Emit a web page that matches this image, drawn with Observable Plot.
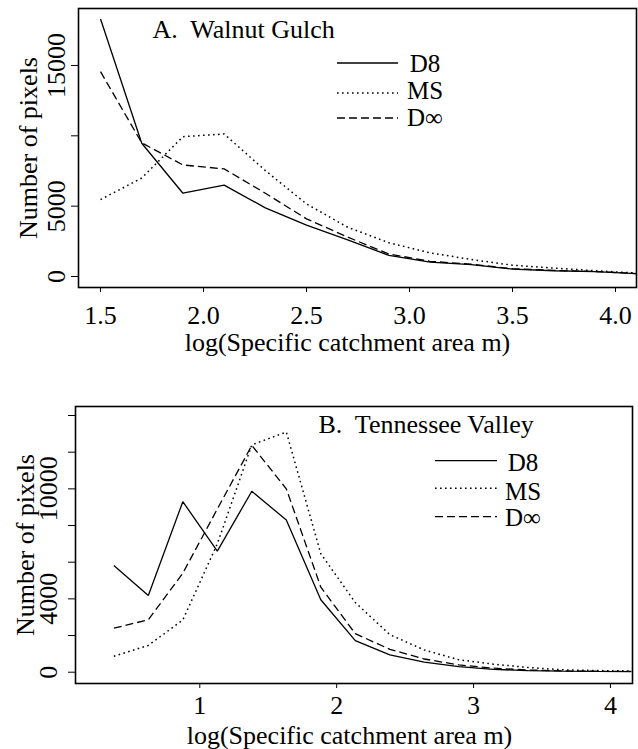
<!DOCTYPE html>
<html>
<head>
<meta charset="utf-8">
<script src="https://cdn.jsdelivr.net/npm/d3@7"></script>
<script src="https://cdn.jsdelivr.net/npm/@observablehq/plot@0.6"></script>
<style>
  html, body { margin: 0; padding: 0; background: #fff; }
  #chart { width: 638px; }
  #chart svg { display: block; }
</style>
</head>
<body>
<div id="chart"></div>
<script>
// ---------- Data ----------
const seriesNames = ["D8", "MS", "D\u221E"];

// Panel A: Walnut Gulch
const titleA = "A.  Walnut Gulch";
const xA = [1.5, 1.7, 1.9, 2.1, 2.3, 2.5, 2.7, 2.9, 3.1, 3.3, 3.5, 3.7, 3.9, 4.1];
const d8A   = [18300, 9470, 5920, 6500, 4880, 3650, 2600, 1500, 1020, 850, 530, 410, 350, 200];
const msA   = [5470, 7000, 9940, 10130, 7530, 5160, 3500, 2400, 1680, 1210, 800, 600, 410, 250];
const dinfA = [14560, 9500, 7930, 7650, 5920, 4100, 2800, 1600, 1080, 870, 560, 430, 360, 210];
const xTicksA = [1.5, 2.0, 2.5, 3.0, 3.5, 4.0];
const xTickLabelsA = ["1.5", "2.0", "2.5", "3.0", "3.5", "4.0"];
const yTicksA = [0, 5000, 10000, 15000];
const yTickLabelsA = [0, 5000, 15000];

// Panel B: Tennessee Valley
const titleB = "B.  Tennessee Valley";
const xB = [0.372, 0.624, 0.876, 1.128, 1.38, 1.632, 1.884, 2.136, 2.388, 2.64, 2.892, 3.144, 3.396, 3.648, 3.9, 4.152];
const d8B   = [5820, 4180, 9300, 6600, 9870, 8300, 3950, 1720, 950, 550, 300, 150, 90, 60, 40, 30];
const msB   = [870, 1460, 2850, 7000, 12400, 13100, 6460, 3800, 2050, 1210, 680, 440, 260, 130, 90, 70];
const dinfB = [2400, 2860, 5400, 8900, 12370, 10000, 4640, 2100, 1250, 720, 400, 220, 120, 70, 50, 40];
const xTicksB = [1, 2, 3, 4];
const xTickLabelsB = ["1", "2", "3", "4"];
const yTicksB = [0, 2000, 4000, 6000, 8000, 10000, 12000, 14000];
const yTickLabelsB = [0, 4000, 10000];

const xLabel = "log(Specific catchment area m)";
const yLabel = "Number of pixels";

// ---------- Styles ----------
const FONT = "Liberation Serif";
const dashes = { "D8": null, "MS": "1.6,3.4", "D\u221E": "8,4" };
const widths = { "D8": 1.3, "MS": 1.5, "D\u221E": 1.3 };

function toRows(xs, d8, ms, dinf) {
  const rows = [];
  [d8, ms, dinf].forEach((vals, k) => {
    vals.forEach((v, i) => rows.push({ series: seriesNames[k], x: xs[i], y: v }));
  });
  return rows;
}

function panel(cfg) {
  const rows = toRows(cfg.xs, cfg.d8, cfg.ms, cfg.dinf);
  const tickMap = new Map(cfg.xTicks.map((t, i) => [t, cfg.xTickLabels[i]]));
  const lineMarks = seriesNames.map(s => Plot.line(rows.filter(r => r.series === s), {
    x: "x", y: "y", stroke: "black", strokeWidth: widths[s],
    strokeDasharray: dashes[s], strokeLinejoin: "miter", strokeLinecap: "butt"
  }));
  const svg = Plot.plot({
    width: 638, height: cfg.height,
    marginLeft: cfg.m[0], marginRight: cfg.m[1], marginTop: cfg.m[2], marginBottom: cfg.m[3],
    style: { fontFamily: FONT, fontSize: "26px", color: "black", background: "white", overflow: "visible" },
    x: { domain: cfg.xDomain },
    y: { domain: cfg.yDomain },
    marks: [
      ...lineMarks,
      Plot.frame({ stroke: "black", strokeWidth: 1.6 }),
      Plot.axisX(cfg.xTicks, { anchor: "bottom", tickSize: 5, tickPadding: cfg.xPad,
        tickFormat: d => tickMap.get(d), label: null, fontSize: 26 }),
      Plot.axisY(cfg.yTicks, { anchor: "left", tickSize: 7, tickPadding: cfg.yPad, tickRotate: -90,
        tickFormat: d => cfg.yTickLabels.includes(d) ? String(d) : "", label: null, fontSize: 26 }),
      Plot.text([cfg.title], { frameAnchor: "top-left", dx: cfg.titlePos[0], dy: cfg.titlePos[1],
        textAnchor: "start", lineAnchor: "middle", fontSize: 26, text: d => d }),
      Plot.text([yLabel], { frameAnchor: "left", dx: cfg.yLabelDx, rotate: -90,
        textAnchor: "middle", lineAnchor: "middle", fontSize: 26, text: d => d }),
      Plot.text([xLabel], { frameAnchor: "bottom", dx: cfg.xLabelPos[0], dy: cfg.xLabelPos[1],
        textAnchor: "middle", lineAnchor: "middle", fontSize: 26, text: d => d })
    ]
  });
  // legend (layout positions relative to the svg)
  const g = d3.select(svg).append("g").attr("font-family", FONT).attr("font-size", cfg.legendFont);
  seriesNames.forEach((s, i) => {
    const L = cfg.legend[i];
    g.append("line").attr("x1", cfg.legendX[0]).attr("x2", cfg.legendX[1])
      .attr("y1", L[1]).attr("y2", L[1]).attr("stroke", "black")
      .attr("stroke-width", widths[s]).attr("stroke-dasharray", dashes[s]);
    g.append("text").attr("x", cfg.legendX[2]).attr("y", L[0]).attr("dy", "0.32em")
      .attr("fill", "black").text(s);
  });
  return svg;
}

const chart = document.getElementById("chart");
chart.append(panel({
  xs: xA, d8: d8A, ms: msA, dinf: dinfA,
  xTicks: xTicksA, xTickLabels: xTickLabelsA, yTicks: yTicksA, yTickLabels: yTickLabelsA,
  height: 365, m: [78, 2, 8, 78],
  xDomain: [1.393, 4.102], yDomain: [-781, 19050],
  xPad: 13, yPad: 7,
  title: titleA, titlePos: [74, 21],
  yLabelDx: -50, xLabelPos: [-10, 55],
  legendX: [337, 398, 425], legendFont: 25,
  legend: [[64, 63], [91, 93], [118, 118]]
}));
chart.append(panel({
  xs: xB, d8: d8B, ms: msB, dinf: dinfB,
  xTicks: xTicksB, xTickLabels: xTickLabelsB, yTicks: yTicksB, yTickLabels: yTickLabelsB,
  height: 384, m: [75, 6, 41, 66],
  xDomain: [0.092, 4.161], yDomain: [-616, 14491],
  xPad: 7, yPad: 12,
  title: titleB, titlePos: [243, 18],
  yLabelDx: -50, xLabelPos: [-4.5, 52],
  legendX: [435, 497, 523], legendFont: 25,
  legend: [[97.7, 95.7], [126.7, 123.3], [153.3, 151.7]]
}));
</script>
</body>
</html>
